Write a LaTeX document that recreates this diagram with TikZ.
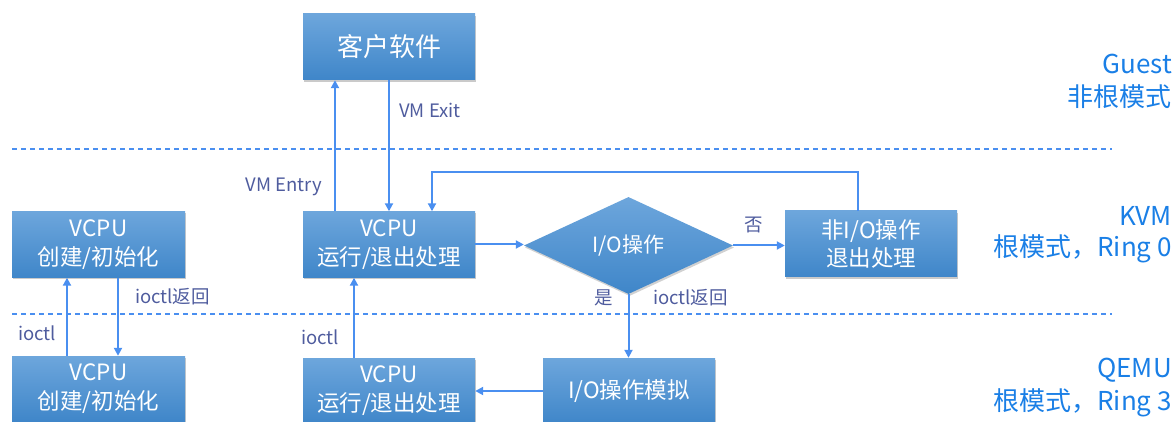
\documentclass[tikz,border=0pt]{standalone}
\usepackage{fontspec}
\setmainfont{Noto Sans CJK SC}
\usetikzlibrary{arrows.meta,shapes.geometric,shadows}

\definecolor{boxtop}{HTML}{6DA6DC}
\definecolor{boxbot}{HTML}{3F86C9}
\definecolor{flow}{HTML}{4A8FF0}
\definecolor{lbl}{HTML}{4F5C9E}
\definecolor{layer}{HTML}{1A7FE6}

\tikzset{
  blockbox/.style={rectangle, top color=boxtop, bottom color=boxbot, draw=none,
    text=white, align=center, inner sep=0pt,
    minimum width=172pt, minimum height=66pt,
    font=\fontsize{22.5}{29}\selectfont,
    drop shadow={shadow xshift=1pt, shadow yshift=-2pt, opacity=0.35, fill=black!60}},
  decide/.style={diamond, top color=boxtop, bottom color=boxbot, draw=none,
    text=white, inner sep=0pt, minimum width=209pt, minimum height=97pt,
    font=\fontsize{21}{24}\selectfont,
    drop shadow={shadow xshift=1pt, shadow yshift=-2pt, opacity=0.3, fill=black!60}},
  arr/.style={draw=flow, line width=2pt, -{Triangle[length=8pt,width=8pt]}},
  sep/.style={draw=flow, line width=1.2pt, dash pattern=on 5pt off 4pt},
  edgelbl/.style={text=lbl, inner sep=0pt, font=\fontsize{18.5}{20}\selectfont},
  layerlbl/.style={text=layer, inner sep=0pt, anchor=east, font=\fontsize{26}{28}\selectfont},
}

\begin{document}
\begin{tikzpicture}[x=1pt, y=-1pt]
  \useasboundingbox (0,0) rectangle (1176,422);

  % layer separators
  \coordinate (s1a) at (12,149);  \coordinate (s1b) at (1112,149);
  \coordinate (s2a) at (12,314);  \coordinate (s2b) at (1112,314);
  \draw[sep] (s1a) -- (s1b);
  \draw[sep] (s2a) -- (s2b);

  % blocks
  \node[blockbox, font=\fontsize{26}{30}\selectfont] (guest) at (389,47) {客户软件};
  \node[blockbox, minimum width=173pt] (vA) at (98.5,244.5) {VCPU\\创建/初始化};
  \node[blockbox, minimum width=173pt] (vB) at (98.5,389) {VCPU\\创建/初始化};
  \node[blockbox] (vC) at (389,244.5) {VCPU\\运行/退出处理};
  \node[blockbox] (vD) at (389,391) {VCPU\\运行/退出处理};
  \node[decide] (io) at (628.5,245.5) {I/O操作};
  \node[blockbox, font=\fontsize{22.5}{28}\selectfont] (nonio) at (871,244) {非I/O操作\\退出处理};
  \node[blockbox] (sim) at (629,391) {I/O操作模拟};

  % guest entry / exit
  \draw[arr] ([xshift=-54pt]vC.north) -- ([xshift=-54pt]guest.south);
  \draw[arr] (guest.south) -- (vC.north);
  \node[edgelbl, anchor=west] (lexit) at (399,110) {VM Exit};
  \node[edgelbl, anchor=east] (lentry) at (322,187) {VM Entry};

  % creation / initialisation
  \draw[arr] ([xshift=-31.5pt]vB.north) -- ([xshift=-31.5pt]vA.south);
  \draw[arr] ([xshift=19.5pt]vA.south) -- ([xshift=19.5pt]vB.north);
  \node[edgelbl, anchor=west] (lret1) at (135,297) {ioctl返回};
  \node[edgelbl, anchor=west] (lioc1) at (18,333) {ioctl};

  % run / exit handling
  \draw[arr] ([xshift=-35pt]vD.north) -- ([xshift=-35pt]vC.south);
  \node[edgelbl, anchor=west] (lioc2) at (301,337) {ioctl};
  \draw[arr] (vC.east) -- (vC.east -| io.west);
  \draw[arr] (io.east) -- (io.east -| nonio.west);
  \node[edgelbl] (lno) at (754,225) {否};
  \coordinate (fbr) at (858,172);
  \coordinate (fbl) at (432,172);
  \draw[arr] ([xshift=-13pt]nonio.north) -- (fbr) -- (fbl) -- (fbl |- vC.north);
  \draw[arr] (io.south) -- (io.south |- sim.north);
  \node[edgelbl] (lyes) at (604,298) {是};
  \node[edgelbl, anchor=west] (lret2) at (653,298) {ioctl返回};
  \draw[arr] (sim.west |- vD.east) -- (vD.east);

  % privilege levels
  \node[layerlbl] (g1) at (1172,64) {Guest};
  \node[layerlbl] (g2) at (1172,97) {非根模式};
  \node[layerlbl] (k1) at (1172,216) {KVM};
  \node[layerlbl] (k2) at (1172,249) {根模式，Ring 0};
  \node[layerlbl] (q1) at (1172,370) {QEMU};
  \node[layerlbl] (q2) at (1172,403) {根模式，Ring 3};
\end{tikzpicture}
\end{document}
